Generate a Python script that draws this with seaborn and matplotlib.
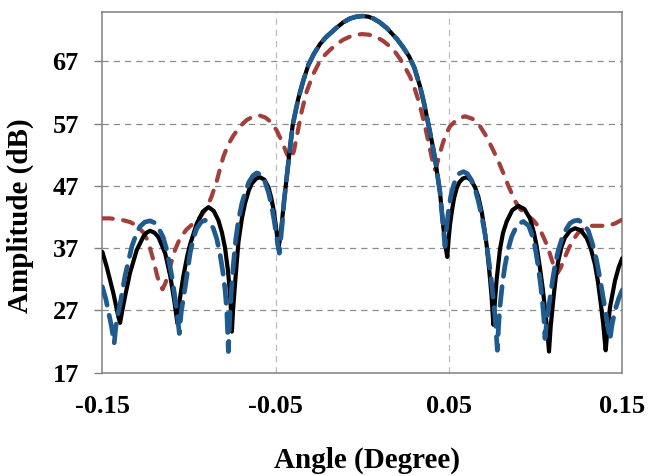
import numpy as np
import pandas as pd
import matplotlib
matplotlib.use("Agg")
import matplotlib.pyplot as plt
import seaborn as sns

# ---- data ----
black_x = [-0.1500, -0.1475, -0.1455, -0.1437, -0.1420, -0.1408, -0.1398,
           -0.1385, -0.1369, -0.1341, -0.1302, -0.1263, -0.1245, -0.1225, -0.1200, -0.1177, -0.1138,
           -0.1109, -0.1086, -0.1075, -0.1067,
           -0.1055, -0.1033, -0.1010, -0.0994, -0.0955, -0.0920, -0.0888, -0.0858, -0.0831, -0.0810,
           -0.0792, -0.0776, -0.0767, -0.0759, -0.0753,
           -0.0745, -0.0734, -0.0715, -0.0695, -0.0677, -0.0655, -0.0638, -0.0612, -0.0590, -0.0565,
           -0.0542, -0.0525, -0.0513, -0.0500, -0.0492, -0.0485,
           -0.0475, -0.0465, -0.0452, -0.0440, -0.0422, -0.0402, -0.0370, -0.0340, -0.0312, -0.0280,
           -0.0244, -0.0210, -0.0186, -0.0150, -0.0110, -0.0071, -0.0035, 0.0000, 0.0035, 0.0064,
           0.0100, 0.0140, 0.0170, 0.0200, 0.0235, 0.0270, 0.0300, 0.0333, 0.0360, 0.0380,
           0.0402, 0.0420, 0.0435, 0.0448, 0.0460, 0.0467, 0.0478, 0.0490,
           0.0498, 0.0506, 0.0518, 0.0529, 0.0545, 0.0560, 0.0580, 0.0602, 0.0625, 0.0650,
           0.0670, 0.0689, 0.0705, 0.0718, 0.0732, 0.0745, 0.0756,
           0.0765, 0.0775, 0.0794, 0.0812, 0.0833, 0.0865, 0.0900, 0.0935, 0.0967, 0.0990,
           0.1006, 0.1025, 0.1041, 0.1055, 0.1068, 0.1077,
           0.1087, 0.1102, 0.1118, 0.1131, 0.1150, 0.1169, 0.1198, 0.1227, 0.1260, 0.1295,
           0.1320, 0.1343, 0.1360, 0.1375, 0.1390, 0.1404,
           0.1415, 0.1429, 0.1458, 0.1480, 0.1500]
black_y = [36.4, 34.0, 31.8, 29.8, 27.6, 26.0, 25.0,
           27.0, 29.3, 33.0, 36.7, 38.9, 39.5, 39.8, 39.5, 38.8, 36.2,
           32.6, 28.7, 26.5, 24.9,
           28.5, 32.5, 35.8, 37.6, 41.0, 42.9, 43.6, 43.0, 41.5, 39.5,
           37.0, 33.5, 30.8, 27.5, 23.6,
           27.5, 31.5, 38.0, 41.8, 44.2, 46.3, 47.4, 48.2, 48.4, 48.0,
           46.8, 45.0, 43.3, 40.8, 38.9, 37.0,
           38.5, 41.0, 44.5, 47.5, 52.0, 56.8, 61.0, 64.0, 66.4, 68.2,
           69.8, 70.9, 71.5, 72.4, 73.3, 73.9, 74.2, 74.3, 74.2, 73.9,
           73.3, 72.4, 71.5, 70.6, 69.3, 67.8, 66.0, 63.0, 59.8, 57.0,
           54.0, 51.3, 48.5, 46.0, 42.5, 40.5, 37.6, 35.6,
           38.5, 40.8, 43.2, 45.0, 46.7, 47.6, 48.2, 48.4, 48.0, 46.8,
           45.2, 42.8, 40.0, 37.3, 33.5, 29.5, 24.7,
           28.5, 32.0, 36.8, 39.5, 41.3, 43.1, 43.8, 43.3, 41.8, 39.5,
           37.3, 33.8, 30.5, 27.0, 23.5, 20.4,
           24.5, 28.8, 32.8, 35.0, 37.3, 38.7, 39.8, 40.2, 39.9, 38.6,
           36.8, 34.3, 31.5, 28.3, 24.8, 20.6,
           24.0, 27.5, 31.8, 34.0, 35.4]

blue_x = [-0.1500, -0.1480, -0.1465, -0.1448, -0.1432,
          -0.1422, -0.1410, -0.1398, -0.1369, -0.1330, -0.1300, -0.1283, -0.1255, -0.1225, -0.1200,
          -0.1177, -0.1150, -0.1128, -0.1100, -0.1085, -0.1070, -0.1056,
          -0.1045, -0.1021, -0.0994, -0.0975, -0.0955, -0.0930, -0.0908, -0.0885, -0.0860, -0.0840,
          -0.0821, -0.0805, -0.0792, -0.0782, -0.0773,
          -0.0765, -0.0755, -0.0744, -0.0730, -0.0715, -0.0695, -0.0677, -0.0655, -0.0630, -0.0609,
          -0.0585, -0.0561, -0.0540, -0.0523, -0.0508, -0.0498, -0.0488, -0.0479,
          -0.0470, -0.0462, -0.0452, -0.0440, -0.0422, -0.0402, -0.0370, -0.0340, -0.0312, -0.0280,
          -0.0244, -0.0210, -0.0186, -0.0150, -0.0110, -0.0071, -0.0035, 0.0000, 0.0035, 0.0064,
          0.0100, 0.0140, 0.0170, 0.0200, 0.0235, 0.0270, 0.0300, 0.0333, 0.0360, 0.0380,
          0.0402, 0.0420, 0.0435, 0.0448, 0.0458, 0.0468, 0.0477,
          0.0485, 0.0496, 0.0510, 0.0525, 0.0540, 0.0560, 0.0583, 0.0605, 0.0631, 0.0650,
          0.0669, 0.0690, 0.0708, 0.0725, 0.0741, 0.0755, 0.0766, 0.0779,
          0.0786, 0.0794, 0.0808, 0.0823, 0.0842, 0.0862, 0.0895, 0.0929, 0.0960, 0.0987,
          0.1002, 0.1015, 0.1030, 0.1041, 0.1048, 0.1054,
          0.1065, 0.1083, 0.1100, 0.1112, 0.1130, 0.1150, 0.1175, 0.1198, 0.1222, 0.1246,
          0.1275, 0.1304, 0.1330, 0.1352, 0.1372, 0.1390, 0.1405, 0.1418, 0.1429,
          0.1440, 0.1458, 0.1480, 0.1500]
blue_y = [30.8, 28.8, 26.8, 24.5, 21.7,
          24.5, 26.5, 28.0, 32.6, 37.3, 39.6, 40.5, 41.2, 41.4, 41.1,
          40.3, 38.8, 36.7, 32.6, 29.8, 26.8, 23.3,
          26.8, 31.0, 36.2, 38.6, 40.2, 41.2, 41.5, 41.2, 40.2, 38.5,
          36.0, 33.2, 30.3, 26.8, 20.4,
          26.0, 30.5, 34.5, 38.5, 41.5, 44.2, 45.9, 47.6, 48.7, 49.1,
          48.8, 47.6, 45.8, 43.7, 41.3, 39.4, 37.6, 36.2,
          38.8, 41.0, 44.5, 47.5, 52.0, 56.8, 61.0, 64.0, 66.4, 68.2,
          69.8, 70.9, 71.5, 72.4, 73.3, 73.9, 74.2, 74.3, 74.2, 73.9,
          73.3, 72.4, 71.5, 70.6, 69.3, 67.8, 66.0, 63.0, 59.8, 57.0,
          54.0, 51.3, 48.5, 46.0, 43.0, 40.0, 37.3,
          40.0, 42.8, 45.3, 47.0, 48.2, 49.0, 49.3, 49.0, 47.9, 46.5,
          44.6, 42.0, 39.2, 36.0, 32.6, 29.0, 26.0, 20.6,
          24.5, 27.6, 31.3, 34.2, 36.9, 38.9, 40.8, 41.3, 40.6, 38.5,
          36.3, 34.0, 30.8, 27.8, 25.5, 22.5,
          25.5, 29.0, 32.3, 34.3, 36.6, 38.4, 40.0, 41.0, 41.4, 41.5,
          41.0, 39.8, 37.5, 35.0, 32.0, 29.0, 26.5, 24.2, 22.3,
          24.6, 27.0, 29.0, 30.3]

red_x = [-0.1500, -0.1460, -0.1427, -0.1380, -0.1340, -0.1300, -0.1263, -0.1240, -0.1225, -0.1205,
         -0.1186, -0.1170, -0.1153, -0.1135, -0.1110, -0.1080, -0.1052, -0.1015, -0.0975, -0.0935,
         -0.0898, -0.0870, -0.0840, -0.0820, -0.0802, -0.0775, -0.0744, -0.0705, -0.0667, -0.0628,
         -0.0590, -0.0560, -0.0533, -0.0510, -0.0494, -0.0475, -0.0456, -0.0435, -0.0413, -0.0395,
         -0.0378, -0.0350, -0.0321, -0.0283, -0.0250, -0.0225, -0.0185, -0.0148, -0.0110, -0.0071,
         -0.0035, 0.0000, 0.0040, 0.0083, 0.0120, 0.0160, 0.0190, 0.0218, 0.0245, 0.0275,
         0.0300, 0.0323, 0.0343, 0.0362, 0.0378, 0.0391, 0.0405, 0.0420, 0.0438, 0.0458,
         0.0480, 0.0506, 0.0550, 0.0592, 0.0635, 0.0679, 0.0715, 0.0747, 0.0780, 0.0813,
         0.0840, 0.0862, 0.0885, 0.0910, 0.0950, 0.0987, 0.1010, 0.1030, 0.1050, 0.1070,
         0.1090, 0.1110, 0.1126, 0.1145, 0.1165, 0.1188, 0.1215, 0.1246, 0.1285, 0.1323,
         0.1370, 0.1419, 0.1460, 0.1500]
red_y = [41.8, 41.8, 41.7, 41.5, 41.2, 40.6, 39.5, 38.3, 37.0, 35.0,
         32.8, 31.2, 30.4, 31.5, 34.0, 36.8, 38.6, 40.0, 41.0, 42.0,
         43.5, 45.3, 47.8, 49.9, 51.7, 53.6, 55.1, 56.6, 57.6, 58.2,
         58.3, 58.0, 57.4, 56.6, 55.9, 54.8, 53.6, 52.1, 51.2, 52.6,
         55.0, 59.0, 62.2, 65.0, 66.8, 67.8, 68.9, 69.8, 70.5, 71.0,
         71.3, 71.4, 71.3, 70.9, 70.3, 69.4, 68.5, 67.4, 66.1, 64.6,
         62.8, 60.8, 58.7, 56.5, 54.5, 52.8, 51.0, 49.6, 51.2, 53.3,
         55.2, 56.6, 57.8, 58.2, 57.8, 56.6, 55.0, 53.2, 51.3, 49.1,
         47.2, 45.8, 44.4, 43.3, 42.3, 41.5, 40.7, 39.7, 38.5, 37.2,
         35.4, 33.7, 33.0, 33.9, 35.3, 36.8, 38.3, 39.5, 40.3, 40.6,
         40.6, 40.6, 41.0, 41.6]

x_ticks = [-0.15, -0.05, 0.05, 0.15]
x_tick_labels = ["-0.15", "-0.05", "0.05", "0.15"]
y_ticks = [17, 27, 37, 47, 57, 67]
y_tick_labels = ["17", "27", "37", "47", "57", "67"]

# ---- styling ----
sns.set_theme(style="white")
plt.rcParams["font.family"] = ["Liberation Serif", "DejaVu Serif"]
plt.rcParams["font.weight"] = "bold"

fig = plt.figure(figsize=(6.5, 4.76), dpi=100)
ax = fig.add_axes([102.4 / 650, (476 - 372.7) / 476, (622.3 - 102.4) / 650, (372.7 - 11.7) / 476])

df_black = pd.DataFrame({"angle": black_x, "amp": black_y})
df_blue = pd.DataFrame({"angle": blue_x, "amp": blue_y})
df_red = pd.DataFrame({"angle": red_x, "amp": red_y})

sns.lineplot(data=df_red, x="angle", y="amp", ax=ax, color="#A33F3B", linewidth=3.0,
             linestyle=(0, (2.5, 2.5)), dash_capstyle="round", estimator=None, sort=False, zorder=3)
sns.lineplot(data=df_black, x="angle", y="amp", ax=ax, color="#000000", linewidth=3.0,
             estimator=None, sort=False, zorder=4)
sns.lineplot(data=df_blue, x="angle", y="amp", ax=ax, color="#1F5B8E", linewidth=3.4,
             linestyle=(0, (4.0, 2.2)), dash_capstyle="round", estimator=None, sort=False, zorder=5)

ax.set_xlim(-0.15, 0.15)
ax.set_ylim(17, 75)
ax.set_xticks(x_ticks)
ax.set_xticklabels(x_tick_labels)
ax.set_yticks(y_ticks)
ax.set_yticklabels(y_tick_labels)

ax.grid(False)
for y in y_ticks[1:]:
    ax.axhline(y, color="#8C8C8C", linewidth=0.9, linestyle=(0, (5, 4)), zorder=1)
for x in x_ticks[1:-1]:
    ax.axvline(x, color="#BDBDBD", linewidth=0.9, linestyle=(0, (5, 4)), zorder=1)

for s in ax.spines.values():
    s.set_visible(True)
    s.set_color("#808080")
    s.set_linewidth(1.1)

ax.tick_params(axis="y", which="major", direction="out", length=6, width=1, color="#808080",
               pad=11, labelsize=19, left=True)
ax.tick_params(axis="x", which="major", direction="out", length=0, pad=16, labelsize=19, bottom=True)
for lab in ax.get_xticklabels() + ax.get_yticklabels():
    lab.set_fontweight("bold")
    lab.set_color("black")

ax.set_xlabel("Angle (Degree)", fontsize=21, fontweight="bold", color="black")
ax.set_ylabel("Amplitude (dB)", fontsize=21, fontweight="bold", color="black")
ax.xaxis.set_label_coords((367 - 102.4) / 519.9, (372.7 - 447) / 361.0)
ax.yaxis.set_label_coords((34 - 102.4) / 519.9, (372.7 - 216) / 361.0)

legend = ax.get_legend()
if legend is not None:
    legend.remove()

fig.savefig("out.png", dpi=100)
